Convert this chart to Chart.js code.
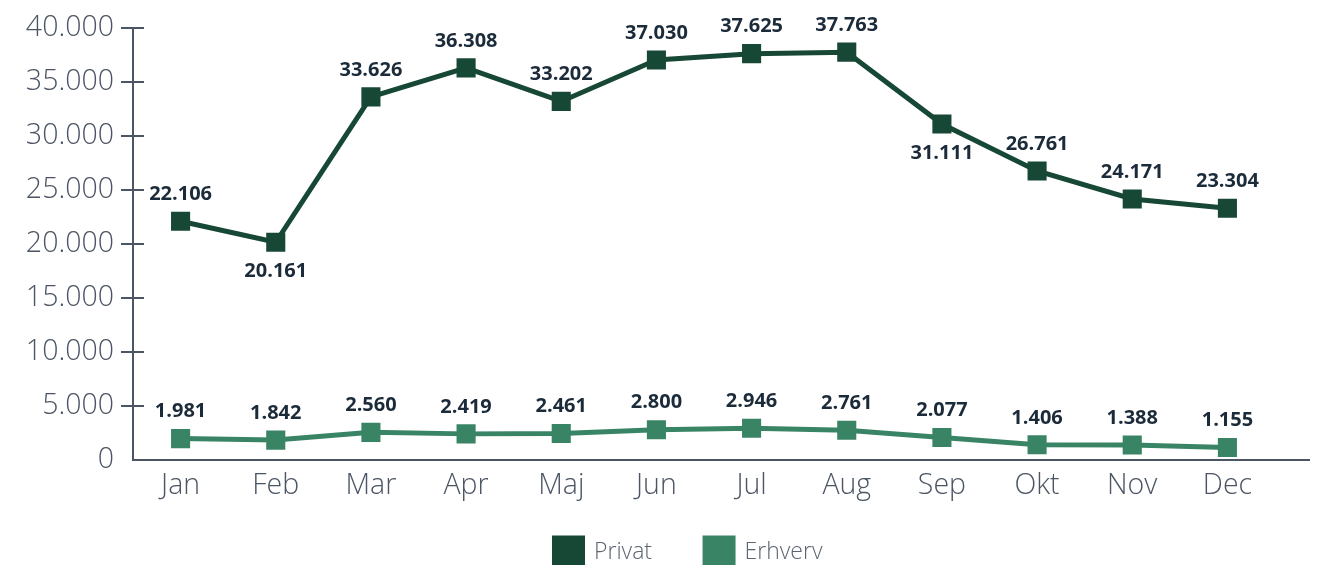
<!DOCTYPE html>
<html>
<head>
<meta charset="utf-8">
<script src="https://cdn.jsdelivr.net/npm/chart.js@4.4.1/dist/chart.umd.min.js"></script>
<style>
html,body{margin:0;padding:0;background:#fff;}
#wrap{width:1322px;height:565px;position:relative;}
</style>
</head>
<body>
<div id="wrap"><canvas id="c" width="1322" height="565"></canvas></div>
<script>
const months = ['Jan','Feb','Mar','Apr','Maj','Jun','Jul','Aug','Sep','Okt','Nov','Dec'];
const privat = [22106, 20161, 33626, 36308, 33202, 37030, 37625, 37763, 31111, 26761, 24171, 23304];
const erhverv = [1981, 1842, 2560, 2419, 2461, 2800, 2946, 2761, 2077, 1406, 1388, 1155];
const privatLabelSide = ['above','below','above','above','above','above','above','above','below','above','above','above'];
const erhvervLabelSide = ['above','above','above','above','above','above','above','above','above','above','above','above'];
const yTicks = [0, 5000, 10000, 15000, 20000, 25000, 30000, 35000, 40000];

const fmt = v => String(v).replace(/\B(?=(\d{3})+(?!\d))/g, '.');
const AXIS = '#4b5563';
const FONT = "'Open Sans', sans-serif";

const axisPlugin = {
  id: 'axisExtras',
  afterLayout(chart) {
    const lg = chart.legend;
    if (lg) { lg.left += 51; lg.right += 51; lg.top -= 3; lg.bottom -= 3; }
  },
  beforeDraw(chart) {
    if (chart.scales.x) chart.scales.x._computeLabelArea = function () { return undefined; };
  },
  beforeDatasetsDraw(chart) {
    const ctx = chart.ctx, y = chart.scales.y, a = chart.chartArea;
    ctx.save();
    ctx.strokeStyle = AXIS;
    ctx.lineWidth = 2;
    ctx.beginPath();
    ctx.moveTo(a.left, a.bottom);
    ctx.lineTo(a.right + 35, a.bottom);
    ctx.stroke();
    y.ticks.forEach(t => {
      if (t.value === 0) return;
      const py = Math.round(y.getPixelForValue(t.value));
      ctx.beginPath();
      ctx.moveTo(a.left - 12, py);
      ctx.lineTo(a.left + 11, py);
      ctx.stroke();
    });
    ctx.restore();
  }
};

const labelPlugin = {
  id: 'valueLabels',
  afterDatasetsDraw(chart) {
    const ctx = chart.ctx;
    const sides = [privatLabelSide, erhvervLabelSide];
    ctx.save();
    ctx.font = "700 20px " + FONT;
    ctx.fillStyle = '#1c2b3a';
    ctx.textAlign = 'center';
    ctx.textBaseline = 'middle';
    chart.data.datasets.forEach((ds, di) => {
      const meta = chart.getDatasetMeta(di);
      meta.data.forEach((pt, i) => {
        const dy = sides[di][i] === 'below' ? 29 : -27;
        ctx.fillText(fmt(ds.data[i]), pt.x, pt.y + dy);
      });
    });
    ctx.restore();
  }
};

new Chart(document.getElementById('c'), {
  type: 'line',
  data: {
    labels: months,
    datasets: [
      {
        label: 'Privat',
        data: privat,
        borderColor: '#174836',
        backgroundColor: '#174836',
        borderWidth: 5,
        pointStyle: 'rect',
        pointRadius: 13.5,
        pointHoverRadius: 13.5,
        pointBorderWidth: 0,
        tension: 0
      },
      {
        label: 'Erhverv',
        data: erhverv,
        borderColor: '#3a8466',
        backgroundColor: '#3a8466',
        borderWidth: 5,
        pointStyle: 'rect',
        pointRadius: 13.5,
        pointHoverRadius: 13.5,
        pointBorderWidth: 0,
        tension: 0
      }
    ]
  },
  options: {
    responsive: false,
    animation: false,
    events: [],
    layout: { padding: { top: 28, right: 47, left: 0, bottom: -14 } },
    plugins: {
      legend: {
        position: 'bottom',
        labels: {
          boxWidth: 28,
          boxHeight: 28,
          padding: 53,
          color: '#5b6571',
          font: { family: FONT, size: 23, weight: 300 }
        }
      },
      tooltip: { enabled: false }
    },
    scales: {
      x: {
        offset: true,
        grid: { display: false, drawTicks: false },
        border: { display: false },
        ticks: {
          color: AXIS,
          padding: 9,
          font: { family: FONT, size: 28.5, weight: 300 }
        },
        afterFit(s) { s.height = 28; s.paddingLeft = 0; s.paddingRight = 0; }
      },
      y: {
        min: 0,
        max: 40000,
        afterBuildTicks(s) { s.ticks = yTicks.map(v => ({ value: v })); },
        grid: { display: false, drawTicks: false },
        border: { display: true, color: AXIS, width: 2 },
        ticks: {
          color: AXIS,
          padding: 19,
          font: { family: FONT, size: 28.5, weight: 300 },
          callback: v => fmt(v)
        },
        afterFit(s) { s.width = 133; s.paddingTop = 0; s.paddingBottom = 0; }
      }
    }
  },
  plugins: [axisPlugin, labelPlugin]
});
</script>
</body>
</html>
